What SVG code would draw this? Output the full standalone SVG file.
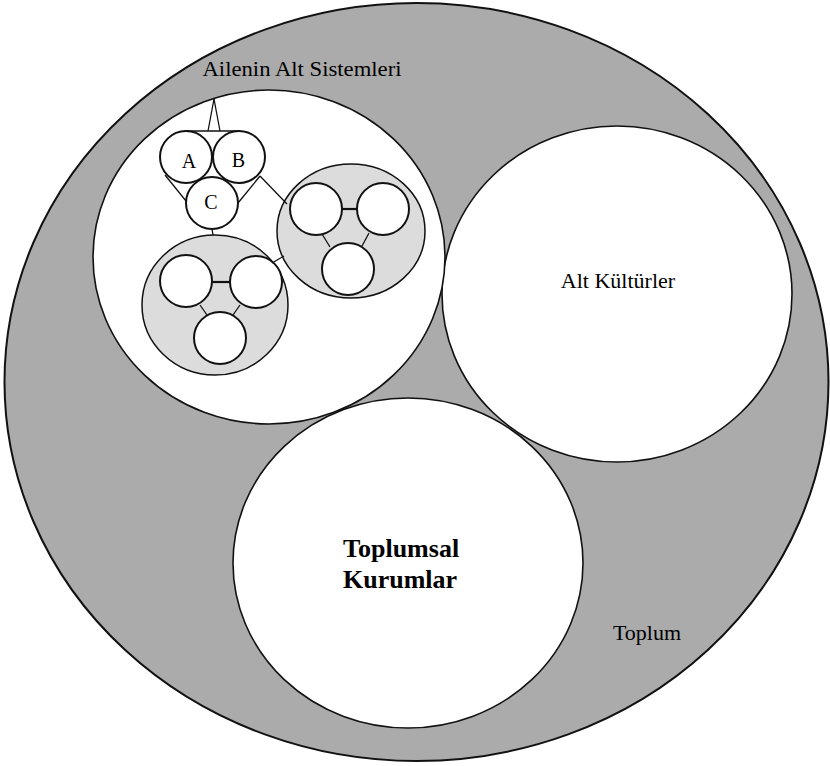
<svg xmlns="http://www.w3.org/2000/svg" width="830" height="766" viewBox="0 0 830 766">
<style>
  .t { font-family: "Liberation Serif", "Times New Roman", serif; fill: #000; }
  .main { fill: #fff; stroke: #111; stroke-width: 1.6; }
  .sub { fill: #dcdcdc; stroke: #111; stroke-width: 1.5; }
  .small { fill: #fff; stroke: #111; stroke-width: 2; }
  .ln { stroke: #111; stroke-width: 1.3; fill: none; }
  .bar { stroke: #111; stroke-width: 2.2; fill: none; }
</style>
<rect width="830" height="766" fill="#fff"/>

<g id="toplum">
  <ellipse cx="416.5" cy="382" rx="412" ry="379" fill="#ababab" stroke="#111" stroke-width="2"/>
  <text class="t" x="647" y="640" text-anchor="middle" font-size="22">Toplum</text>
</g>

<g id="alt-kulturler">
  <ellipse class="main" cx="617" cy="294" rx="175" ry="168"/>
  <text class="t" x="618" y="288" text-anchor="middle" font-size="22">Alt Kültürler</text>
</g>

<g id="toplumsal-kurumlar">
  <ellipse class="main" cx="408" cy="563" rx="175" ry="165"/>
  <text class="t" x="343" y="557" font-size="26" font-weight="bold">Toplumsal</text>
  <text class="t" x="343" y="588" font-size="26" font-weight="bold">Kurumlar</text>
</g>

<g id="aile">
  <ellipse class="main" cx="269" cy="257" rx="176" ry="167"/>
  <text class="t" x="302" y="76" text-anchor="middle" font-size="21" textLength="199" lengthAdjust="spacingAndGlyphs">Ailenin Alt Sistemleri</text>
</g>

<g id="aile-abc">
  <circle class="small" cx="186" cy="157" r="26"/>
  <circle class="small" cx="239" cy="157" r="26"/>
  <circle class="small" cx="212" cy="203" r="26"/>
  <text class="t" x="189" y="168" text-anchor="middle" font-size="20">A</text>
  <text class="t" x="238.5" y="167" text-anchor="middle" font-size="20">B</text>
  <text class="t" x="211" y="209" text-anchor="middle" font-size="20">C</text>
</g>

<g id="aile-2">
  <ellipse class="sub" cx="351" cy="231" rx="74" ry="67"/>
  <circle class="small" cx="316" cy="209" r="26"/>
  <circle class="small" cx="383" cy="209" r="26"/>
  <circle class="small" cx="348" cy="269" r="26"/>
</g>

<g id="aile-3">
  <ellipse class="sub" cx="215" cy="305" rx="73" ry="70"/>
  <circle class="small" cx="186" cy="281" r="26"/>
  <circle class="small" cx="256" cy="282" r="26"/>
  <circle class="small" cx="220" cy="338" r="26"/>
</g>

<g id="connectors">
  <!-- ABC outline and links -->
  <line class="ln" x1="186" y1="131" x2="239" y2="131"/>
  <line class="ln" x1="165" y1="175" x2="186" y2="201"/>
  <line class="ln" x1="260" y1="176" x2="238" y2="203"/>
  <line class="ln" x1="260" y1="176" x2="287" y2="204"/>
  <line class="ln" x1="208" y1="131" x2="214" y2="99"/>
  <line class="ln" x1="220" y1="131" x2="214" y2="99"/>
  <line class="ln" x1="212" y1="229" x2="213" y2="235"/>
  <line class="ln" x1="272" y1="263" x2="284" y2="256"/>
  <!-- family 2 internal links -->
  <line class="bar" x1="342" y1="209" x2="357" y2="209"/>
  <line class="ln" x1="322" y1="234" x2="330" y2="247"/>
  <line class="ln" x1="369" y1="233" x2="362" y2="246"/>
  <!-- family 3 internal links -->
  <line class="bar" x1="212" y1="282" x2="230" y2="282"/>
  <line class="ln" x1="200" y1="305" x2="207" y2="315"/>
  <line class="ln" x1="240" y1="305" x2="233" y2="315"/>
</g>
</svg>
